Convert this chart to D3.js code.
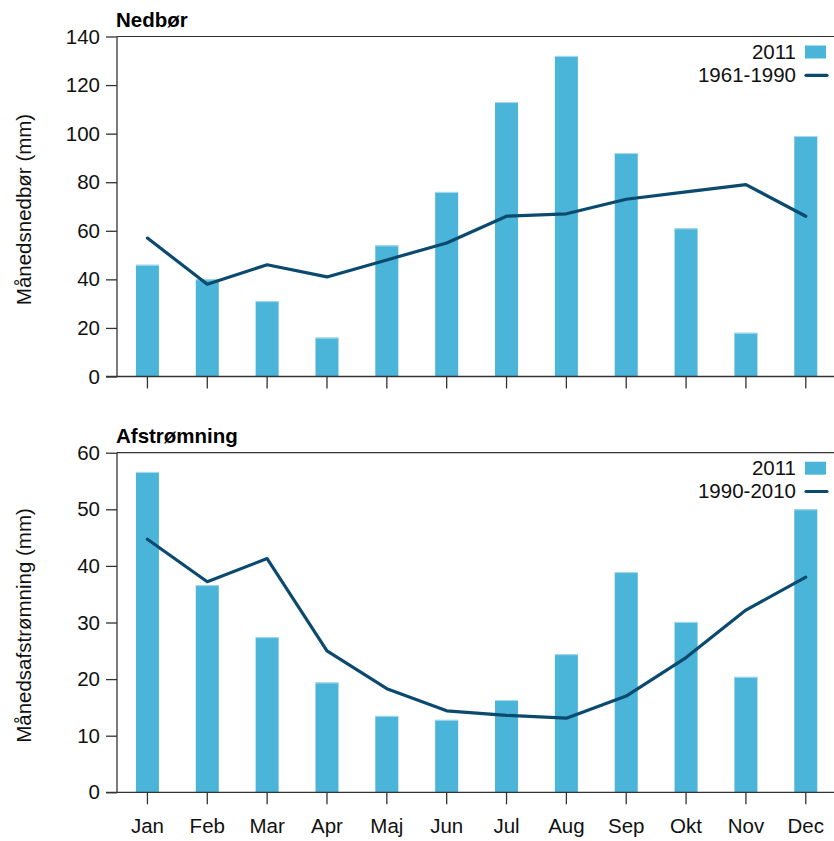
<!DOCTYPE html>
<html>
<head>
<meta charset="utf-8">
<script src="https://cdn.jsdelivr.net/npm/d3@7"></script>
<style>
  html, body { margin: 0; padding: 0; background: #fff; }
  svg { display: block; font-family: "Liberation Sans", Arial, Helvetica, sans-serif; }
</style>
</head>
<body>
<svg id="chart" width="834" height="841"></svg>
<script>
// Month labels shared by both panels
const months = ["Jan","Feb","Mar","Apr","Maj","Jun","Jul","Aug","Sep","Okt","Nov","Dec"];

// Precipitation (mm)
const precip2011 = [46, 40, 31, 16, 54, 76, 113, 132, 92, 61, 18, 99];
const precipNormal = [57, 38, 46, 41, 48, 55, 66, 67, 73, 76, 79, 66];
const precipTicks = [0, 20, 40, 60, 80, 100, 120, 140];

// Runoff (mm)
const runoff2011 = [56.6, 36.6, 27.4, 19.4, 13.5, 12.8, 16.3, 24.4, 38.9, 30.1, 20.4, 50.0];
const runoffNormal = [44.7, 37.2, 41.3, 25.0, 18.3, 14.4, 13.6, 13.1, 17.0, 23.8, 32.2, 38.0];
const runoffTicks = [0, 10, 20, 30, 40, 50, 60];

const barColor = "#4bb4d9";
const barEdge = "#a8dbee";
const lineColor = "#0b4a6f";
const axisColor = "#333";
const fontSize = 20.5;

const svg = d3.select("#chart");

const x = d3.scaleBand().domain(months).range([117.5, 835.7]).paddingInner(0).paddingOuter(0);
const barW = 23;

function panel(opts) {
  const { top, bottom, max, ticks, bars, line, title, ylabel, legendLine, showX } = opts;
  const g = svg.append("g");
  const y = d3.scaleLinear().domain([0, max]).range([bottom, top]);

  // bars
  g.selectAll("rect.bar").data(bars).join("rect")
    .attr("class", "bar")
    .attr("x", (d, i) => x(months[i]) + x.bandwidth() / 2 - barW / 2)
    .attr("y", d => y(d))
    .attr("width", barW)
    .attr("height", d => y(0) - y(d))
    .attr("fill", barColor);
  // thin light rim along bar tops
  g.selectAll("line.rim").data(bars).join("line")
    .attr("class", "rim")
    .attr("x1", (d, i) => x(months[i]) + x.bandwidth() / 2 - barW / 2)
    .attr("x2", (d, i) => x(months[i]) + x.bandwidth() / 2 + barW / 2)
    .attr("y1", d => y(d) + 0.5)
    .attr("y2", d => y(d) + 0.5)
    .attr("stroke", barEdge)
    .attr("stroke-width", 1);

  // reference-period line
  const lineGen = d3.line()
    .x((d, i) => x(months[i]) + x.bandwidth() / 2)
    .y(d => y(d));
  g.append("path")
    .datum(line)
    .attr("d", lineGen)
    .attr("fill", "none")
    .attr("stroke", lineColor)
    .attr("stroke-width", 3.2)
    .attr("stroke-linejoin", "round")
    .attr("stroke-linecap", "round");

  // top frame line
  g.append("line")
    .attr("x1", 117).attr("x2", 834)
    .attr("y1", y(max)).attr("y2", y(max))
    .attr("stroke", axisColor).attr("stroke-width", 1.2);

  // y axis
  const yAxis = d3.axisLeft(y).tickValues(ticks).tickSize(11).tickPadding(6).tickFormat(d3.format("d"));
  const ya = g.append("g").attr("transform", "translate(117,0)").call(yAxis);
  ya.select(".domain").attr("stroke", axisColor).attr("stroke-width", 1.3).attr("d", `M0,${y(max)}V${y(0)}`);
  ya.selectAll(".tick line").attr("stroke", axisColor).attr("stroke-width", 1.3);
  ya.selectAll(".tick text").attr("font-size", fontSize).attr("fill", "#111")
    .style("font-family", "'Liberation Sans', Arial, sans-serif");

  // x axis
  const xAxis = d3.axisBottom(x).tickSize(12).tickPadding(14).tickFormat(d => showX ? d : "");
  const xa = g.append("g").attr("transform", `translate(0,${y(0)})`).call(xAxis);
  xa.select(".domain").attr("stroke", axisColor).attr("stroke-width", 1.3).attr("d", `M106,0H834`);
  xa.selectAll(".tick line").attr("stroke", axisColor).attr("stroke-width", 1.3);
  xa.selectAll(".tick text").attr("font-size", fontSize).attr("fill", "#111")
    .style("font-family", "'Liberation Sans', Arial, sans-serif");

  // title
  g.append("text").attr("x", 116).attr("y", top - 10)
    .attr("font-size", 20.5).attr("font-weight", "bold").attr("fill", "#000")
    .text(title);

  // y label
  g.append("text")
    .attr("transform", `translate(31,${(top + bottom) / 2 + 3}) rotate(-90)`)
    .attr("text-anchor", "middle")
    .attr("font-size", fontSize).attr("fill", "#111")
    .text(ylabel);

  // legend
  const lg = g.append("g");
  lg.append("text").attr("x", 796).attr("y", top + 22.5).attr("text-anchor", "end")
    .attr("font-size", fontSize).attr("fill", "#111").text("2011");
  lg.append("rect").attr("x", 805).attr("y", top + 9).attr("width", 21).attr("height", 13).attr("fill", barColor);
  lg.append("text").attr("x", 796).attr("y", top + 45.5).attr("text-anchor", "end")
    .attr("font-size", fontSize).attr("fill", "#111").text(legendLine);
  lg.append("line").attr("x1", 806).attr("x2", 827).attr("y1", top + 38.8).attr("y2", top + 38.8)
    .attr("stroke", lineColor).attr("stroke-width", 3.2).attr("stroke-linecap", "round");
}

panel({
  top: 36.5, bottom: 376.5, max: 140, ticks: precipTicks,
  bars: precip2011, line: precipNormal,
  title: "Nedbør", ylabel: "Månedsnedbør (mm)", legendLine: "1961-1990", showX: false
});

panel({
  top: 452.7, bottom: 792.3, max: 60, ticks: runoffTicks,
  bars: runoff2011, line: runoffNormal,
  title: "Afstrømning", ylabel: "Månedsafstrømning (mm)", legendLine: "1990-2010", showX: true
});
</script>
</body>
</html>
